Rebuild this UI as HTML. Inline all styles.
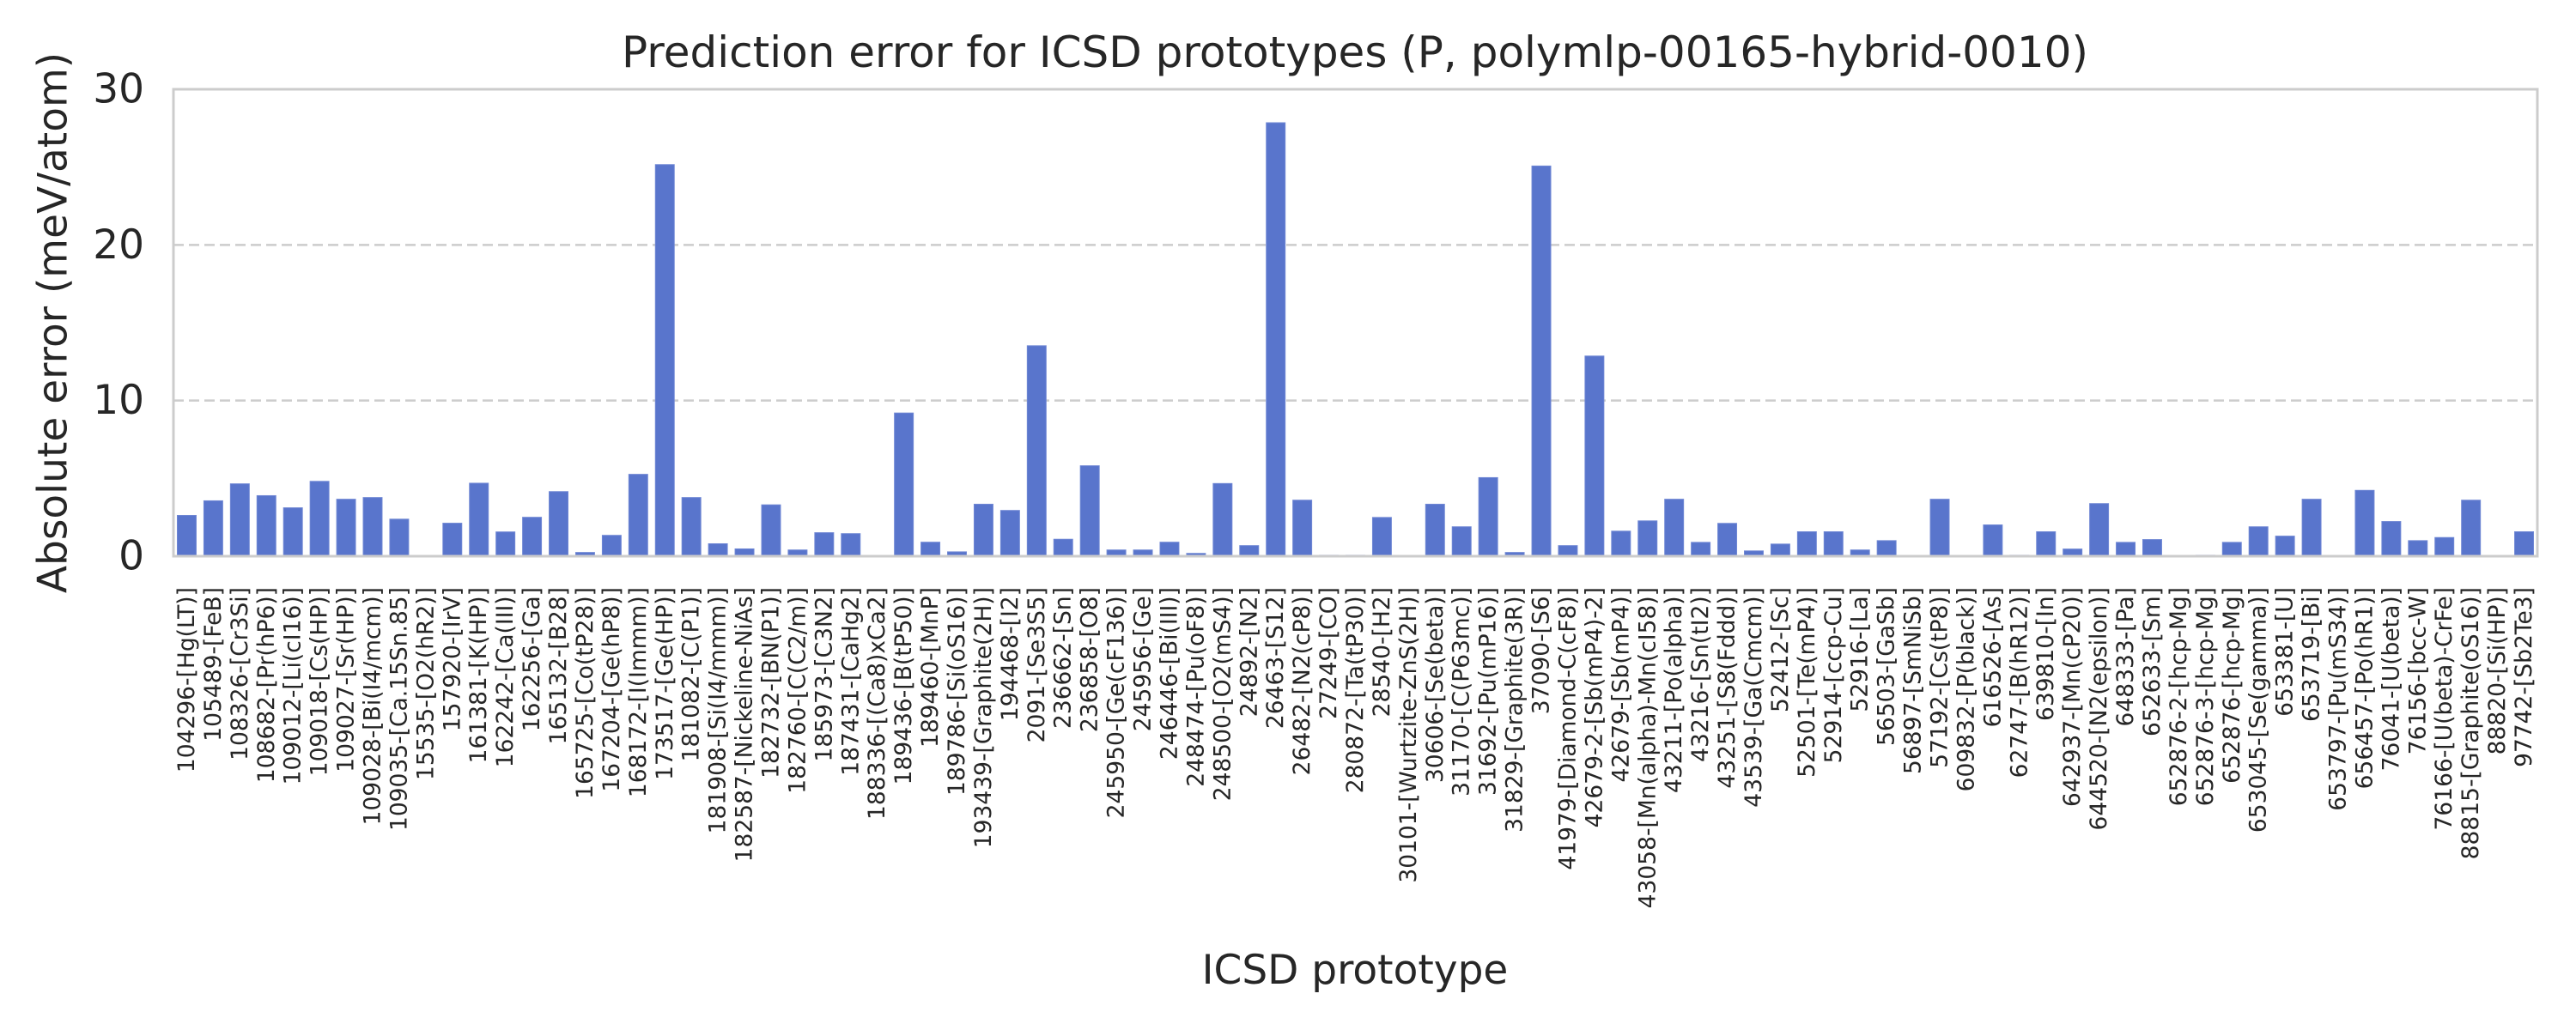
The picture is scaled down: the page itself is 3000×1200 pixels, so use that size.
<!DOCTYPE html>
<html><head><meta charset="utf-8"><style>
html,body{margin:0;padding:0;background:#fff;}
svg{display:block;font-family:"DejaVu Sans","Liberation Sans",sans-serif;}
</style></head><body>
<svg id="chart" width="3000" height="1200" viewBox="0 0 3000 1200" xmlns="http://www.w3.org/2000/svg">
<rect x="0" y="0" width="3000" height="1200" fill="#fff"/>
<text x="1578" y="78" font-size="50" text-anchor="middle" fill="#262626">Prediction error for ICSD prototypes (P, polymlp-00165-hybrid-0010)</text>
<g id="grid"></g>
<g id="bars"></g>
<rect x="202" y="104" width="2753" height="544" fill="none" stroke="#cccccc" stroke-width="3"/>
<g id="yticks"></g>
<g id="xticks"></g>
<text transform="translate(62,376) rotate(-90)" font-size="47" text-anchor="middle" dominant-baseline="central" fill="#262626">Absolute error (meV/atom)</text>
<text x="1578" y="1146" font-size="47" text-anchor="middle" fill="#262626">ICSD prototype</text>
</svg>
<script>
const categories = ["104296-[Hg(LT)]","105489-[FeB]","108326-[Cr3Si]","108682-[Pr(hP6)]","109012-[Li(cI16)]","109018-[Cs(HP)]","109027-[Sr(HP)]","109028-[Bi(I4/mcm)]","109035-[Ca.15Sn.85]","15535-[O2(hR2)]","157920-[IrV]","161381-[K(HP)]","162242-[Ca(III)]","162256-[Ga]","165132-[B28]","165725-[Co(tP28)]","167204-[Ge(hP8)]","168172-[I(Immm)]","173517-[Ge(HP)]","181082-[C(P1)]","181908-[Si(I4/mmm)]","182587-[Nickeline-NiAs]","182732-[BN(P1)]","182760-[C(C2/m)]","185973-[C3N2]","187431-[CaHg2]","188336-[(Ca8)xCa2]","189436-[B(tP50)]","189460-[MnP]","189786-[Si(oS16)]","193439-[Graphite(2H)]","194468-[I2]","2091-[Se3S5]","236662-[Sn]","236858-[O8]","245950-[Ge(cF136)]","245956-[Ge]","246446-[Bi(III)]","248474-[Pu(oF8)]","248500-[O2(mS4)]","24892-[N2]","26463-[S12]","26482-[N2(cP8)]","27249-[CO]","280872-[Ta(tP30)]","28540-[H2]","30101-[Wurtzite-ZnS(2H)]","30606-[Se(beta)]","31170-[C(P63mc)]","31692-[Pu(mP16)]","31829-[Graphite(3R)]","37090-[S6]","41979-[Diamond-C(cF8)]","42679-2-[Sb(mP4)-2]","42679-[Sb(mP4)]","43058-[Mn(alpha)-Mn(cI58)]","43211-[Po(alpha)]","43216-[Sn(tI2)]","43251-[S8(Fddd)]","43539-[Ga(Cmcm)]","52412-[Sc]","52501-[Te(mP4)]","52914-[ccp-Cu]","52916-[La]","56503-[GaSb]","56897-[SmNiSb]","57192-[Cs(tP8)]","609832-[P(black)]","616526-[As]","62747-[B(hR12)]","639810-[In]","642937-[Mn(cP20)]","644520-[N2(epsilon)]","648333-[Pa]","652633-[Sm]","652876-2-[hcp-Mg]","652876-3-[hcp-Mg]","652876-[hcp-Mg]","653045-[Se(gamma)]","653381-[U]","653719-[Bi]","653797-[Pu(mS34)]","656457-[Po(hR1)]","76041-[U(beta)]","76156-[bcc-W]","76166-[U(beta)-CrFe]","88815-[Graphite(oS16)]","88820-[Si(HP)]","97742-[Sb2Te3]"];
const errors = [2.62,3.56,4.65,3.89,3.11,4.81,3.66,3.77,2.38,0,2.12,4.69,1.56,2.5,4.15,0.24,1.34,5.26,25.16,3.77,0.8,0.47,3.3,0.4,1.51,1.45,0,9.2,0.9,0.28,3.34,2.94,13.52,1.09,5.81,0.4,0.4,0.9,0.18,4.67,0.68,27.85,3.6,0.06,0.06,2.49,0,3.34,1.89,5.05,0.24,25.07,0.68,12.86,1.61,2.27,3.66,0.89,2.11,0.34,0.78,1.57,1.57,0.4,1.0,0,3.66,0,2.01,0.06,1.57,0.46,3.38,0.89,1.07,0,0.06,0.89,1.89,1.29,3.66,0,4.23,2.23,1.0,1.2,3.6,0,1.57];
const yTicks = [0,10,20,30];
const yTickLabels = ["0","10","20","30"];

const NS = "http://www.w3.org/2000/svg";
const plotL = 202, plotR = 2955, plotT = 104, plotB = 648, yMax = 30;
const band = (plotR - plotL) / categories.length;
function xCenter(i){ return plotL + band * (i + 0.5); }
function yScale(v){ return plotB - (v / yMax) * (plotB - plotT); }
function mk(tag, attrs){ const e = document.createElementNS(NS, tag); for (const k in attrs) e.setAttribute(k, attrs[k]); return e; }

const grid = document.getElementById('grid');
const yt = document.getElementById('yticks');
yTicks.forEach((t, i) => {
  if (t > 0 && t < yMax) {
    const l = mk('line', {x1: plotL, x2: plotR, y1: yScale(t), y2: yScale(t), stroke: '#cccccc', 'stroke-width': 2.5, 'stroke-dasharray': '12 6'});
    
    
    grid.appendChild(l);
  }
  const tx = mk('text', {x: 168, y: yScale(t), 'font-size': 47, 'text-anchor': 'end', 'dominant-baseline': 'central', fill: '#262626'});
  tx.textContent = yTickLabels[i];
  
  
  yt.appendChild(tx);
});

const bars = document.getElementById('bars');
const xt = document.getElementById('xticks');
const bw = band * 0.71;
categories.forEach((c, i) => {
  const v = errors[i];
  const y = yScale(v);
  const r = mk('rect', {x: xCenter(i) - bw / 2, y: y, width: bw, height: Math.max(0, plotB - y), fill: '#5975cc', stroke: '#6f87d4', 'stroke-width': 1});
  
  
  bars.appendChild(r);
  const tx = mk('text', {transform: 'translate(' + xCenter(i) + ',684) rotate(-90)', 'font-size': 26.5, 'text-anchor': 'end', 'dominant-baseline': 'central', fill: '#262626'});
  tx.textContent = c;
  
  
  xt.appendChild(tx);
});
</script>
</body></html>
